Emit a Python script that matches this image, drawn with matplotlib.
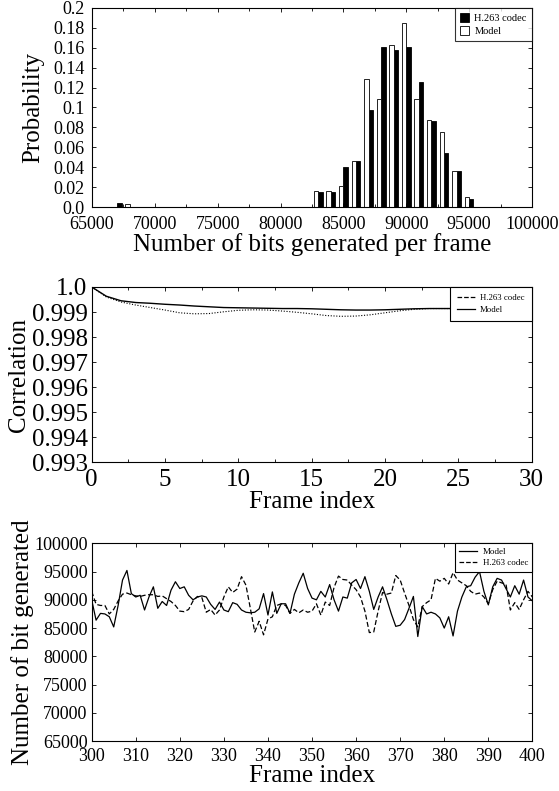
import numpy as np
import matplotlib
matplotlib.use('Agg')
import matplotlib.pyplot as plt
from matplotlib.lines import Line2D
from matplotlib.ticker import MultipleLocator

plt.rcParams['font.family'] = 'Liberation Serif'
plt.rcParams['xtick.direction'] = 'in'
plt.rcParams['ytick.direction'] = 'in'
plt.rcParams['xtick.top'] = True
plt.rcParams['ytick.right'] = True

# ---- histogram data ----
bins = [67000, 68000, 83000, 84000, 85000, 86000, 87000, 88000, 89000,
        90000, 91000, 92000, 93000, 94000, 95000]
prob_model = [0.0, 0.003, 0.0162, 0.0165, 0.0216, 0.0465, 0.1287, 0.109, 0.1626,
              0.185, 0.1085, 0.0876, 0.075, 0.0357, 0.0105]
prob_codec = [0.004, 0.0, 0.0148, 0.0148, 0.0398, 0.0465, 0.097, 0.161, 0.1576,
              0.161, 0.126, 0.0862, 0.054, 0.0364, 0.0078]
prob_ticks = [0.0, 0.02, 0.04, 0.06, 0.08, 0.1, 0.12, 0.14, 0.16, 0.18, 0.2]
prob_labels = ['0.0', '0.02', '0.04', '0.06', '0.08', '0.1', '0.12', '0.14', '0.16', '0.18', '0.2']

# ---- correlation data ----
lag = np.arange(0, 31)
corr_model = [1.0, 0.99963, 0.99945, 0.99938, 0.99935, 0.99931, 0.99928, 0.99924, 0.99921, 0.99918,
              0.99917, 0.99916, 0.99915, 0.99914, 0.99914, 0.99913, 0.99911, 0.99909, 0.99908, 0.99908,
              0.99909, 0.99911, 0.99913, 0.99914, 0.99914, 0.99914, 0.99914, 0.99914, 0.99914, 0.99914,
              0.99914]
corr_codec = [1.0, 0.9996, 0.9994, 0.99928, 0.99918, 0.99908, 0.99897, 0.99893, 0.99894, 0.99901,
              0.99907, 0.99909, 0.99908, 0.99904, 0.99899, 0.99893, 0.99886, 0.99883, 0.99884, 0.99889,
              0.99897, 0.99905, 0.99911, 0.99914, 0.99914, 0.99914, 0.99914, 0.99914, 0.99914, 0.99914,
              0.99914]
corr_ticks = [0.993, 0.994, 0.995, 0.996, 0.997, 0.998, 0.999, 1.0]
corr_labels = ['0.993', '0.994', '0.995', '0.996', '0.997', '0.998', '0.999', '1.0']

# ---- bits per frame, frames 300..400 ----
frames = np.arange(300, 401)
bits_model = [90000, 86400, 87600, 87500, 87000, 85200, 89000, 93500, 95200, 91100,
              90500, 90800, 88200, 90500, 92300, 88500, 89700, 89000, 91700, 93200,
              92000, 92300, 90800, 90000, 90500, 90700, 90500, 89200, 88300, 89600,
              88200, 87900, 89500, 89200, 88200, 87800, 87700, 87800, 88400, 91100,
              87300, 91400, 87600, 89300, 89300, 87600, 91000, 93000, 94700, 92000,
              90300, 90000, 91500, 90500, 92700, 90000, 88000, 90500, 90300, 93000,
              93600, 92000, 94100, 91500, 88300, 90500, 92300, 90000, 87500, 85300,
              85500, 86500, 88500, 90600, 83500, 88800, 87500, 87800, 87500, 86800,
              85000, 87000, 83600, 88000, 90500, 92300, 92500, 94000, 95000, 91500,
              89100, 92300, 93800, 93500, 92000, 90500, 92500, 91000, 93500, 90500,
              89800]
bits_codec = [91500, 89200, 89000, 89000, 87500, 88300, 89800, 91000, 91200, 90900,
              90700, 90600, 90800, 90900, 90900, 90600, 90700, 90200, 89700, 89000,
              88000, 87900, 88300, 89800, 90600, 90400, 87800, 88300, 87300, 88200,
              90500, 92300, 91300, 91900, 94100, 92600, 88500, 84300, 86200, 83800,
              86600, 87000, 89000, 89300, 89000, 87600, 88300, 87700, 88200, 87800,
              88000, 89300, 87300, 89600, 89000, 92200, 94200, 93600, 93500, 92600,
              91800, 90500, 88000, 84200, 84300, 88000, 91300, 91000, 91200, 94300,
              93500, 91200, 89000, 86500, 85200, 88800, 89500, 90000, 93800, 93300,
              93800, 92800, 94800, 93500, 93000, 92500, 91500, 91000, 91200, 90500,
              89300, 91800, 93300, 93000, 92800, 88200, 89500, 88300, 90000, 91500,
              90500]

fig = plt.figure(figsize=(5.59, 7.91), dpi=100)

# ===================== histogram =====================
ax1 = fig.add_axes([0.1646, 0.7383, 0.787, 0.2516])
w = 350
x = np.array(bins)
b1 = ax1.bar(x + w / 2, prob_codec, width=w, color='black', edgecolor='black', linewidth=0.6, label='H.263 codec')
b2 = ax1.bar(x - w / 2, prob_model, width=w, color='white', edgecolor='black', linewidth=0.6, label='Model')
ax1.set_xlim(65000, 100000)
ax1.set_ylim(0, 0.2)
ax1.set_xticks(np.arange(65000, 100001, 5000))
ax1.xaxis.set_minor_locator(MultipleLocator(2500))
ax1.set_yticks(prob_ticks)
ax1.set_yticklabels(prob_labels)
ax1.tick_params(labelsize=13, length=3, width=0.6)
ax1.tick_params(axis='y', pad=5.5)
ax1.tick_params(axis='x', pad=6.5)
ax1.tick_params(which='minor', length=2, width=0.6)
ax1.set_xlabel('Number of bits generated per frame', fontsize=18, labelpad=0)
ax1.set_ylabel('Probability', fontsize=18, labelpad=6)
leg = ax1.legend(handles=[b1, b2], loc='upper right', fontsize=7.5, frameon=True, fancybox=False,
                 edgecolor='black', borderaxespad=0, handlelength=0.9, handleheight=0.9,
                 handletextpad=0.5, labelspacing=0.3, borderpad=0.5)
leg.get_frame().set_linewidth(0.8)

# ===================== correlation =====================
ax2 = fig.add_axes([0.164, 0.4153, 0.7871, 0.2219])
ax2.plot(lag, corr_codec, color='black', linestyle=(0, (1, 1.5)), linewidth=0.8)
ax2.plot(lag, corr_model, color='black', linestyle='-', linewidth=1.0)
ax2.set_xlim(0, 30)
ax2.set_ylim(0.993, 1.0)
ax2.set_xticks(np.arange(0, 31, 5))
ax2.xaxis.set_minor_locator(MultipleLocator(2.5))
ax2.set_yticks(corr_ticks)
ax2.set_yticklabels(corr_labels)
ax2.tick_params(labelsize=18, length=3, width=0.6, pad=3)
ax2.tick_params(axis='x', pad=5)
ax2.tick_params(which='minor', length=2, width=0.6)
ax2.set_xlabel('Frame index', fontsize=18, labelpad=0)
ax2.set_ylabel('Correlation', fontsize=18, labelpad=1)
h2 = [Line2D([], [], color='black', linestyle='--', linewidth=0.9),
      Line2D([], [], color='black', linestyle='-', linewidth=0.9)]
leg2 = ax2.legend(h2, ['H.263 codec', 'Model'], loc='upper right', fontsize=6.3, frameon=True,
                  fancybox=False, edgecolor='black', borderaxespad=0, handlelength=2.0,
                  handletextpad=0.6, labelspacing=0.4, borderpad=0.8, framealpha=1)
leg2.get_frame().set_linewidth(0.8)
leg2.set_zorder(5)

# ===================== bits per frame =====================
ax3 = fig.add_axes([0.164, 0.0632, 0.7884, 0.2499])
ax3.plot(frames, bits_model, color='black', linestyle='-', linewidth=0.9, label='Model')
ax3.plot(frames, bits_codec, color='black', linestyle=(0, (4, 2)), linewidth=0.9, label='H.263 codec')
ax3.set_xlim(300, 400)
ax3.set_ylim(65000, 100000)
ax3.set_xticks(np.arange(300, 401, 10))
ax3.set_yticks(np.arange(65000, 100001, 5000))
ax3.tick_params(labelsize=13, length=3, width=0.6, pad=3)
ax3.tick_params(axis='x', pad=5)
ax3.set_xlabel('Frame index', fontsize=18, labelpad=0)
ax3.set_ylabel('Number of bit generated', fontsize=18, labelpad=0)
h3 = [Line2D([], [], color='black', linestyle='-', linewidth=0.9),
      Line2D([], [], color='black', linestyle='--', linewidth=0.9)]
leg3 = ax3.legend(h3, ['Model', 'H.263 codec'], loc='upper right', fontsize=6.5, frameon=True,
                  fancybox=False, edgecolor='black', borderaxespad=0, handlelength=2.0,
                  handletextpad=0.6, labelspacing=0.3, borderpad=0.5, framealpha=1)
leg3.get_frame().set_linewidth(0.8)

fig.savefig('out.png', dpi=100)
